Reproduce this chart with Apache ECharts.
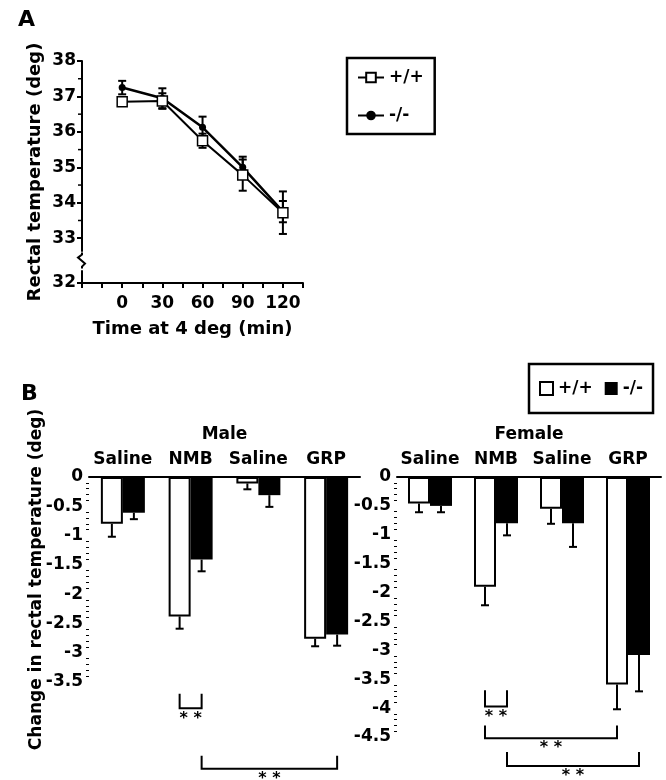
<!DOCTYPE html>
<html>
<head>
<meta charset="utf-8">
<script src="https://cdn.jsdelivr.net/npm/echarts@6/dist/echarts.min.js"></script>
<style>
html, body { margin: 0; padding: 0; background: #fff; }
#chart { width: 666px; height: 780px; }
</style>
</head>
<body>
<div id="chart"></div>
<script>
// panel A: rectal temperature during cold exposure
var timePoints = [0, 30, 60, 90, 120];
var wtTemp = [36.85, 36.87, 35.75, 34.78, 33.72];
var wtTempErr = [0.1, 0.22, 0.2, 0.44, 0.6];
var koTemp = [37.25, 36.95, 36.13, 35.0, 33.75];
var koTempErr = [0.19, 0.28, 0.3, 0.3, 0.3];
var tempTicks = [32, 33, 34, 35, 36, 37, 38];
var tempMinorTicks = [33.5, 34.5, 35.5, 36.5, 37.5];

// panel B: change in rectal temperature
var treatments = ['Saline', 'NMB', 'Saline', 'GRP'];
var maleWt = [-0.8, -2.38, -0.11, -2.76];
var maleWtErr = [0.22, 0.21, 0.1, 0.13];
var maleKo = [-0.61, -1.41, -0.31, -2.69];
var maleKoErr = [0.11, 0.2, 0.2, 0.19];
var femaleWt = [-0.46, -1.9, -0.55, -3.59];
var femaleWtErr = [0.15, 0.32, 0.26, 0.43];
var femaleKo = [-0.5, -0.8, -0.8, -3.08];
var femaleKoErr = [0.11, 0.21, 0.41, 0.63];

// significance brackets: [category, side, category, side, top, bottom], side 0 = +/+, 1 = -/-
var maleBrackets = [[1, 0, 1, 1, -3.70, -3.95], [1, 1, 3, 1, -4.76, -4.98]];
var femaleBrackets = [[1, 0, 1, 1, -3.69, -3.97], [1, 0, 3, 0, -4.30, -4.52], [1, 1, 3, 1, -4.76, -5.0]];

// y axis break of panel A
var tempBreak = { start: 32.35, end: 32.65 };

var FONT = 'DejaVu Sans';
var BAR_W = 22;

function zip(xs, ys, es) {
    return xs.map(function (x, i) { return [x, ys[i], es[i]]; });
}

function lineErr(params, api) {
    var t = api.coord([api.value(0), api.value(1) + api.value(2)]);
    var b = api.coord([api.value(0), api.value(1) - api.value(2)]);
    var x = t[0];
    var st = { stroke: '#000', lineWidth: 2 };
    return { type: 'group', children: [
        { type: 'line', shape: { x1: x, y1: t[1], x2: x, y2: b[1] }, style: st },
        { type: 'line', shape: { x1: x - 4, y1: t[1], x2: x + 4, y2: t[1] }, style: st },
        { type: 'line', shape: { x1: x - 4, y1: b[1], x2: x + 4, y2: b[1] }, style: st }
    ] };
}

function barErr(side) {
    return function (params, api) {
        var c = api.coord([api.value(0), api.value(1)]);
        var b = api.coord([api.value(0), api.value(1) - api.value(2)]);
        var x = c[0] + side * BAR_W / 2;
        var st = { stroke: '#000', lineWidth: 2 };
        return { type: 'group', children: [
            { type: 'line', shape: { x1: x, y1: c[1], x2: x, y2: b[1] }, style: st },
            { type: 'line', shape: { x1: x - 4, y1: b[1], x2: x + 4, y2: b[1] }, style: st }
        ] };
    };
}

function bracket(params, api) {
    var half = BAR_W / 2;
    var xa = api.coord([api.value(0), 0])[0] + (api.value(1) ? half : -half);
    var xb = api.coord([api.value(2), 0])[0] + (api.value(3) ? half : -half);
    var yt = api.coord([0, api.value(4)])[1];
    var yb = api.coord([0, api.value(5)])[1];
    return { type: 'group', children: [
        { type: 'polyline', shape: { points: [[xa, yt], [xa, yb], [xb, yb], [xb, yt]] },
          style: { stroke: '#000', lineWidth: 2, fill: null } },
        { type: 'text', x: (xa + xb) / 2, y: yb + 2,
          style: { text: '* *', fill: '#000', font: 'bold 16px "DejaVu Sans"', align: 'center', verticalAlign: 'top' } }
    ] };
}

// little squiggle on the y axis where it is broken
function breakMark(params, api) {
    var p1 = api.coord([api.value(0), api.value(1)]);
    var p2 = api.coord([api.value(0), api.value(2)]);
    var x = p1[0], m = (p1[1] + p2[1]) / 2;
    return { type: 'group', children: [
        { type: 'rect', shape: { x: x - 3, y: m - 7, width: 6, height: 14 }, style: { fill: '#fff' } },
        { type: 'polyline', shape: { points: [[x, m - 8], [x, m - 6], [x - 4, m - 3], [x + 3, m + 3], [x, m + 6], [x, m + 8]] },
          style: { stroke: '#000', lineWidth: 2, fill: null } }
    ] };
}

// short minor ticks of panel A's y axis
function minorMark(params, api) {
    var p = api.coord([api.value(0), api.value(1)]);
    return { type: 'line', shape: { x1: p[0] - 4, y1: p[1], x2: p[0], y2: p[1] },
             style: { stroke: '#000', lineWidth: 1.5 } };
}

var axisLine = { lineStyle: { color: '#000', width: 2 } };
var axisTick = { length: 5, lineStyle: { color: '#000', width: 2 } };
var nameStyle = { fontFamily: FONT, fontWeight: 'bold', fontSize: 17, color: '#000' };
var nameStyleA = { fontFamily: FONT, fontWeight: 'bold', fontSize: 18, color: '#000' };
var labelStyle = { fontFamily: FONT, fontWeight: 'bold', fontSize: 17, color: '#000' };
var legendText = { fontFamily: FONT, fontWeight: 'bold', fontSize: 17, color: '#000' };

var chart = echarts.init(document.getElementById('chart'), null, { renderer: 'canvas' });

var option = {
    animation: false,
    backgroundColor: '#fff',
    textStyle: { fontFamily: FONT, fontWeight: 'bold', color: '#000' },
    title: [
        { text: 'A', left: 13, top: 4, textStyle: { fontFamily: FONT, fontWeight: 'bold', fontSize: 22, color: '#000' } },
        { text: 'B', left: 16, top: 378, textStyle: { fontFamily: FONT, fontWeight: 'bold', fontSize: 22, color: '#000' } }
    ],
    legend: [
        {
            data: ['+/+', '-/-'],
            orient: 'vertical',
            left: 347, top: 58,
            itemWidth: 26, itemHeight: 12, itemGap: 21,
            padding: [11, 11, 10, 10],
            borderColor: '#000', borderWidth: 2.5,
            textStyle: legendText
        },
        {
            data: ['wtB', 'koB'],
            orient: 'horizontal',
            left: 529, top: 364,
            icon: 'rect',
            itemWidth: 13, itemHeight: 13, itemGap: 12,
            padding: [16, 10, 16, 10],
            borderColor: '#000', borderWidth: 2.5,
            formatter: function (n) { return n === 'wtB' ? '+/+' : '-/-'; },
            textStyle: legendText
        }
    ],
    grid: [
        { left: 82, top: 61, width: 221, height: 222 },
        { left: 89, top: 477, width: 271, height: 205 },
        { left: 397, top: 477, width: 264, height: 260 }
    ],
    xAxis: [
        {
            gridIndex: 0, type: 'value', min: -30, max: 135, interval: 15,
            axisLine: axisLine, axisTick: axisTick, splitLine: { show: false },
            axisLabel: Object.assign({ margin: 12, formatter: function (v) {
                return (v >= 0 && v <= 120 && v % 30 === 0) ? String(v) : '';
            } }, labelStyle),
            name: 'Time at 4 deg (min)', nameLocation: 'middle', nameGap: 37,
            nameMoveOverlap: false, nameTextStyle: nameStyleA
        },
        {
            gridIndex: 1, type: 'category', position: 'top', data: treatments,
            axisLine: axisLine,
            axisTick: { length: 6, alignWithLabel: false, lineStyle: { color: '#000', width: 2 } },
            axisLabel: Object.assign({ margin: 9, interval: 0 }, labelStyle),
            name: 'Male', nameLocation: 'middle', nameGap: 34,
            nameMoveOverlap: false, nameTextStyle: nameStyle
        },
        {
            gridIndex: 2, type: 'category', position: 'top', data: treatments,
            axisLine: axisLine,
            axisTick: { length: 6, alignWithLabel: false, lineStyle: { color: '#000', width: 2 } },
            axisLabel: Object.assign({ margin: 9, interval: 0 }, labelStyle),
            name: 'Female', nameLocation: 'middle', nameGap: 34,
            nameMoveOverlap: false, nameTextStyle: nameStyle
        }
    ],
    yAxis: [
        {
            gridIndex: 0, type: 'value', min: 32, max: 38, interval: 1,
            breaks: [{ start: tempBreak.start, end: tempBreak.end, gap: '9%' }],
            breakArea: {
                show: true, expandOnClick: false,
                itemStyle: { color: '#fff', borderColor: '#fff', borderWidth: 0, opacity: 0 }
            },
            axisLine: { onZero: false, lineStyle: { color: '#000', width: 2 } },
            axisTick: Object.assign({ customValues: tempTicks }, axisTick),
            splitLine: { show: false },
            axisLabel: Object.assign({ margin: 6, hideOverlap: false, customValues: tempTicks }, labelStyle),
            name: 'Rectal temperature (deg)', nameLocation: 'middle', nameGap: 38,
            nameMoveOverlap: false, nameTextStyle: nameStyleA
        },
        {
            gridIndex: 1, type: 'value', min: -3.5, max: 0, interval: 0.5,
            axisLine: { onZero: false, lineStyle: { color: '#000', width: 2 } },
            axisTick: axisTick,
            minorTick: { show: true, splitNumber: 5, length: 3, lineStyle: { color: '#000', width: 1 } },
            splitLine: { show: false },
            axisLabel: Object.assign({ margin: 6 }, labelStyle),
            name: 'Change in rectal temperature (deg)', nameLocation: 'middle', nameGap: 44,
            nameMoveOverlap: false, nameTextStyle: nameStyle
        },
        {
            gridIndex: 2, type: 'value', min: -4.5, max: 0, interval: 0.5,
            axisLine: { onZero: false, lineStyle: { color: '#000', width: 2 } },
            axisTick: axisTick,
            minorTick: { show: true, splitNumber: 5, length: 3, lineStyle: { color: '#000', width: 1 } },
            splitLine: { show: false },
            axisLabel: Object.assign({ margin: 6 }, labelStyle)
        }
    ],
    series: [
        {
            type: 'custom', name: 'axisBreak', xAxisIndex: 0, yAxisIndex: 0, z: 10, clip: false,
            renderItem: breakMark, data: [[-30, tempBreak.start, tempBreak.end]]
        },
        {
            type: 'custom', name: 'minorTicks', xAxisIndex: 0, yAxisIndex: 0, z: 10, clip: false,
            renderItem: minorMark, data: tempMinorTicks.map(function (v) { return [-30, v]; })
        },
        {
            type: 'custom', name: 'errWt', xAxisIndex: 0, yAxisIndex: 0, z: 1,
            renderItem: lineErr, data: zip(timePoints, wtTemp, wtTempErr)
        },
        {
            type: 'custom', name: 'errKo', xAxisIndex: 0, yAxisIndex: 0, z: 1,
            renderItem: lineErr, data: zip(timePoints, koTemp, koTempErr)
        },
        {
            type: 'line', name: '-/-', xAxisIndex: 0, yAxisIndex: 0, z: 3,
            data: timePoints.map(function (t, i) { return [t, koTemp[i]]; }),
            symbol: 'circle', symbolSize: 7,
            lineStyle: { color: '#000', width: 2.5 },
            itemStyle: { color: '#000' }
        },
        {
            type: 'line', name: '+/+', xAxisIndex: 0, yAxisIndex: 0, z: 4,
            data: timePoints.map(function (t, i) { return [t, wtTemp[i]]; }),
            symbol: 'rect', symbolSize: 10,
            lineStyle: { color: '#000', width: 2 },
            itemStyle: { color: '#fff', borderColor: '#000', borderWidth: 1.5 }
        },
        {
            type: 'bar', name: 'wtB', xAxisIndex: 1, yAxisIndex: 1, data: maleWt,
            barWidth: BAR_W, barGap: '0%',
            itemStyle: { color: '#fff', borderColor: '#000', borderWidth: 2 }
        },
        {
            type: 'bar', name: 'koB', xAxisIndex: 1, yAxisIndex: 1, data: maleKo,
            barWidth: BAR_W, barGap: '0%',
            itemStyle: { color: '#000' }
        },
        {
            type: 'bar', name: 'wtB', xAxisIndex: 2, yAxisIndex: 2, data: femaleWt,
            barWidth: BAR_W, barGap: '0%',
            itemStyle: { color: '#fff', borderColor: '#000', borderWidth: 2 }
        },
        {
            type: 'bar', name: 'koB', xAxisIndex: 2, yAxisIndex: 2, data: femaleKo,
            barWidth: BAR_W, barGap: '0%',
            itemStyle: { color: '#000' }
        },
        {
            type: 'custom', name: 'errMaleWt', xAxisIndex: 1, yAxisIndex: 1, z: 3,
            renderItem: barErr(-1), data: zip([0, 1, 2, 3], maleWt, maleWtErr)
        },
        {
            type: 'custom', name: 'errMaleKo', xAxisIndex: 1, yAxisIndex: 1, z: 3,
            renderItem: barErr(1), data: zip([0, 1, 2, 3], maleKo, maleKoErr)
        },
        {
            type: 'custom', name: 'errFemaleWt', xAxisIndex: 2, yAxisIndex: 2, z: 3,
            renderItem: barErr(-1), data: zip([0, 1, 2, 3], femaleWt, femaleWtErr)
        },
        {
            type: 'custom', name: 'errFemaleKo', xAxisIndex: 2, yAxisIndex: 2, z: 3,
            renderItem: barErr(1), data: zip([0, 1, 2, 3], femaleKo, femaleKoErr)
        },
        {
            type: 'custom', name: 'sigMale', xAxisIndex: 1, yAxisIndex: 1, clip: false,
            renderItem: bracket, data: maleBrackets
        },
        {
            type: 'custom', name: 'sigFemale', xAxisIndex: 2, yAxisIndex: 2, clip: false,
            renderItem: bracket, data: femaleBrackets
        }
    ]
};

chart.setOption(option);
</script>
</body>
</html>
